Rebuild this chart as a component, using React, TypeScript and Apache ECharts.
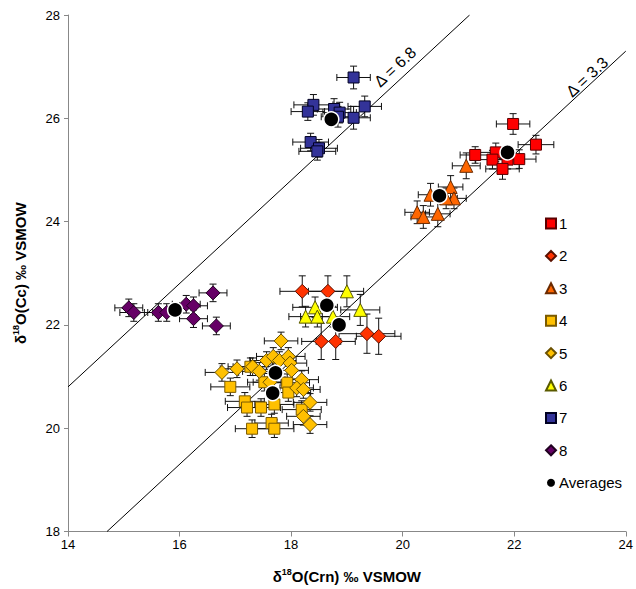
import React, { useEffect, useRef } from "react";
import * as echarts from "echarts";

// [x, y, xErr, yErr]
const s1 = [
  [21.98, 25.89, 0.3, 0.2], [21.3, 25.29, 0.27, 0.16], [21.67, 25.34, 0.3, 0.18],
  [21.61, 25.2, 0.3, 0.18], [21.88, 25.2, 0.3, 0.18], [22.09, 25.21, 0.3, 0.18],
  [21.79, 25.02, 0.3, 0.2], [22.39, 25.49, 0.32, 0.18],
];
const s2 = [
  [18.2, 22.65, 0.4, 0.3], [18.66, 22.65, 0.35, 0.3], [18.54, 21.68, 0.35, 0.35],
  [18.8, 21.68, 0.35, 0.35], [19.36, 21.83, 0.5, 0.38], [19.57, 21.78, 0.4, 0.35],
];
const s3 = [
  [21.14, 25.08, 0.25, 0.25], [20.86, 24.67, 0.22, 0.22], [20.92, 24.45, 0.22, 0.2],
  [20.5, 24.52, 0.22, 0.22], [20.26, 24.18, 0.22, 0.22], [20.37, 24.09, 0.22, 0.22],
  [20.63, 24.15, 0.22, 0.25], [20.78, 24.45, 0.2, 0.2],
];
const s4 = [
  [17.27, 21.19, 0.4, 0.17], [16.91, 20.8, 0.35, 0.17], [17.52, 20.89, 0.3, 0.17],
  [17.93, 20.88, 0.4, 0.17], [17.95, 20.69, 0.4, 0.17], [17.17, 20.52, 0.35, 0.17],
  [17.21, 20.4, 0.35, 0.17], [17.46, 20.4, 0.35, 0.17], [17.7, 20.46, 0.35, 0.17],
  [18.19, 20.36, 0.35, 0.17], [17.3, 19.99, 0.3, 0.17], [17.65, 20.1, 0.3, 0.17],
  [17.7, 19.99, 0.35, 0.17],
];
const s5 = [
  [17.82, 21.69, 0.3, 0.17], [16.76, 21.08, 0.3, 0.17], [17.03, 21.15, 0.3, 0.17],
  [17.31, 21.19, 0.35, 0.17], [17.43, 21.1, 0.3, 0.17], [17.56, 21.31, 0.3, 0.17],
  [17.68, 21.39, 0.3, 0.17], [17.79, 21.31, 0.3, 0.17], [17.95, 21.39, 0.3, 0.17],
  [17.98, 21.26, 0.3, 0.17], [18.01, 21.12, 0.3, 0.17], [17.62, 20.89, 0.3, 0.17],
  [18.19, 20.94, 0.3, 0.17], [18.1, 20.78, 0.3, 0.17], [18.22, 20.75, 0.3, 0.17],
  [18.34, 20.5, 0.3, 0.17], [18.22, 20.23, 0.3, 0.17], [18.34, 20.07, 0.3, 0.17],
];
const s6 = [
  [19.0, 22.65, 0.3, 0.3], [18.43, 22.34, 0.4, 0.2], [18.26, 22.16, 0.3, 0.2],
  [18.47, 22.16, 0.3, 0.2], [18.75, 22.16, 0.3, 0.2], [19.24, 22.29, 0.35, 0.3],
];
const s7 = [
  [19.12, 26.79, 0.3, 0.22], [18.4, 26.26, 0.35, 0.2], [18.3, 26.13, 0.3, 0.17],
  [18.77, 26.18, 0.3, 0.2], [18.87, 26.11, 0.3, 0.2], [18.84, 26.03, 0.3, 0.2],
  [19.32, 26.23, 0.3, 0.2], [19.12, 26.01, 0.3, 0.22], [18.35, 25.54, 0.32, 0.17],
  [18.5, 25.42, 0.33, 0.17], [18.47, 25.36, 0.33, 0.17],
];
const s8 = [
  [15.09, 22.33, 0.25, 0.17], [15.18, 22.24, 0.25, 0.17], [15.62, 22.24, 0.25, 0.17],
  [15.77, 22.24, 0.25, 0.17], [16.12, 22.4, 0.25, 0.17], [16.25, 22.37, 0.25, 0.17],
  [16.6, 22.62, 0.25, 0.17], [16.25, 22.12, 0.25, 0.17], [16.66, 21.98, 0.25, 0.17],
];
const averages = [
  [21.88, 25.34], [18.72, 25.98], [20.66, 24.5], [15.92, 22.29],
  [18.64, 22.38], [18.86, 22.0], [17.72, 21.07], [17.67, 20.68],
];
const line68 = [[14, 20.8], [21.2, 28]];
const line33 = [[14.7, 18], [24, 27.3]];
const xTicks = { min: 14, max: 24, interval: 2 };
const yTicks = { min: 18, max: 28, interval: 2 };

const FONT = "'Liberation Sans', Arial, sans-serif";

const groups = [
  { name: "1", data: s1, symbol: "rect", size: 11, color: "#FF0000", border: "#5a0000" },
  { name: "2", data: s2, symbol: "diamond", size: 14, color: "#FF3300", border: "#5a1000" },
  { name: "3", data: s3, symbol: "triangle", size: 13, color: "#FF6600", border: "#6a2a00" },
  { name: "4", data: s4, symbol: "rect", size: 11, color: "#FFC000", border: "#7a5a00" },
  { name: "5", data: s5, symbol: "diamond", size: 14, color: "#FFC000", border: "#6a5000" },
  { name: "6", data: s6, symbol: "triangle", size: 13, color: "#FFFF00", border: "#5a5a00" },
  { name: "7", data: s7, symbol: "rect", size: 11, color: "#333399", border: "#000022" },
  { name: "8", data: s8, symbol: "diamond", size: 14, color: "#660066", border: "#200020" },
];

export default function App() {
  const ref = useRef<HTMLDivElement>(null);
  useEffect(() => {
    if (!ref.current) return;
    const chart = echarts.init(ref.current, null, { renderer: "svg" });
    const allErr: number[][] = [];
    groups.forEach((g) => g.data.forEach((d) => allErr.push(d)));

    const errorSeries: any = {
      type: "custom",
      coordinateSystem: "cartesian2d",
      data: allErr,
      encode: { x: 0, y: 1 },
      z: 1,
      silent: true,
      renderItem: (params: any, api: any) => {
        const x = api.value(0), y = api.value(1), xe = api.value(2), ye = api.value(3);
        const l = api.coord([x - xe, y]);
        const r = api.coord([x + xe, y]);
        const t = api.coord([x, y + ye]);
        const b = api.coord([x, y - ye]);
        const c = 3.5;
        const st = { stroke: "#111", lineWidth: 1 };
        return {
          type: "group",
          children: [
            { type: "line", shape: { x1: l[0], y1: l[1], x2: r[0], y2: r[1] }, style: st },
            { type: "line", shape: { x1: l[0], y1: l[1] - c, x2: l[0], y2: l[1] + c }, style: st },
            { type: "line", shape: { x1: r[0], y1: r[1] - c, x2: r[0], y2: r[1] + c }, style: st },
            { type: "line", shape: { x1: t[0], y1: t[1], x2: b[0], y2: b[1] }, style: st },
            { type: "line", shape: { x1: t[0] - c, y1: t[1], x2: t[0] + c, y2: t[1] }, style: st },
            { type: "line", shape: { x1: b[0] - c, y1: b[1], x2: b[0] + c, y2: b[1] }, style: st },
          ],
        };
      },
    };

    const scatterSeries = groups.map((g) => ({
      type: "scatter",
      name: g.name,
      data: g.data.map((d) => [d[0], d[1]]),
      symbol: g.symbol,
      symbolSize: g.size,
      z: 2,
      itemStyle: { color: g.color, borderColor: g.border, borderWidth: 1, opacity: 1 },
    }));

    const axisName = (label: string) =>
      "{b|δ}{s|18}{b|" + label + "}";
    const rich = {
      b: { fontSize: 15, fontWeight: "bold", fontFamily: FONT, color: "#000", lineHeight: 18 },
      s: { fontSize: 9, fontWeight: "bold", fontFamily: FONT, color: "#000", verticalAlign: "top", lineHeight: 10 },
    };

    chart.setOption({
      animation: false,
      grid: { left: 68, right: 6, top: 15, bottom: 57, containLabel: false },
      legend: {
        orient: "vertical",
        left: 540,
        top: 211,
        itemWidth: 10,
        itemHeight: 10,
        itemGap: 17.4,
        data: ["1", "2", "3", "4", "5", "6", "7", "8", "Averages"],
        textStyle: { fontSize: 15, fontFamily: FONT, color: "#000", padding: [0, 0, 0, -2] },
      },
      xAxis: {
        type: "value",
        min: xTicks.min,
        max: xTicks.max,
        interval: xTicks.interval,
        splitLine: { show: false },
        axisLine: { lineStyle: { color: "#888", width: 1 } },
        axisTick: { show: true, length: 5, lineStyle: { color: "#888" } },
        axisLabel: { fontSize: 13, fontFamily: FONT, color: "#000", margin: 6 },
        name: axisName("O(Crn) ‰ VSMOW"),
        nameLocation: "middle",
        nameGap: 36,
        nameTextStyle: { rich },
      },
      yAxis: {
        type: "value",
        min: yTicks.min,
        max: yTicks.max,
        interval: yTicks.interval,
        splitLine: { show: false },
        axisLine: { show: true, lineStyle: { color: "#888", width: 1 } },
        axisTick: { show: true, length: 4, lineStyle: { color: "#888" } },
        axisLabel: { fontSize: 13, fontFamily: FONT, color: "#000", margin: 8 },
        name: axisName("O(Cc) ‰ VSMOW"),
        nameLocation: "middle",
        nameGap: 39,
        nameTextStyle: { rich },
      },
      graphic: [
        {
          type: "text", x: 395, y: 67, rotation: 0.74,
          style: { text: "Δ = 6.8", fontSize: 16, fontFamily: FONT, fill: "#000", align: "center", verticalAlign: "middle" },
        },
        {
          type: "text", x: 587, y: 77, rotation: 0.74,
          style: { text: "Δ = 3.3", fontSize: 16, fontFamily: FONT, fill: "#000", align: "center", verticalAlign: "middle" },
        },
      ],
      series: [
        { type: "line", data: line68, symbol: "none", silent: true, z: 1, lineStyle: { color: "#000", width: 1 } },
        { type: "line", data: line33, symbol: "none", silent: true, z: 1, lineStyle: { color: "#000", width: 1 } },
        errorSeries,
        ...scatterSeries,
        {
          type: "scatter",
          name: "Averages",
          data: averages,
          symbol: "circle",
          symbolSize: 15,
          z: 3,
          itemStyle: { color: "#000", borderColor: "#fff", borderWidth: 1.5, opacity: 1 },
        },
      ],
    });
    return () => chart.dispose();
  }, []);
  return (
    <div
      ref={ref}
      style={{ position: "fixed", left: 0, top: 0, width: 636, height: 589, background: "#fff" }}
    />
  );
}
